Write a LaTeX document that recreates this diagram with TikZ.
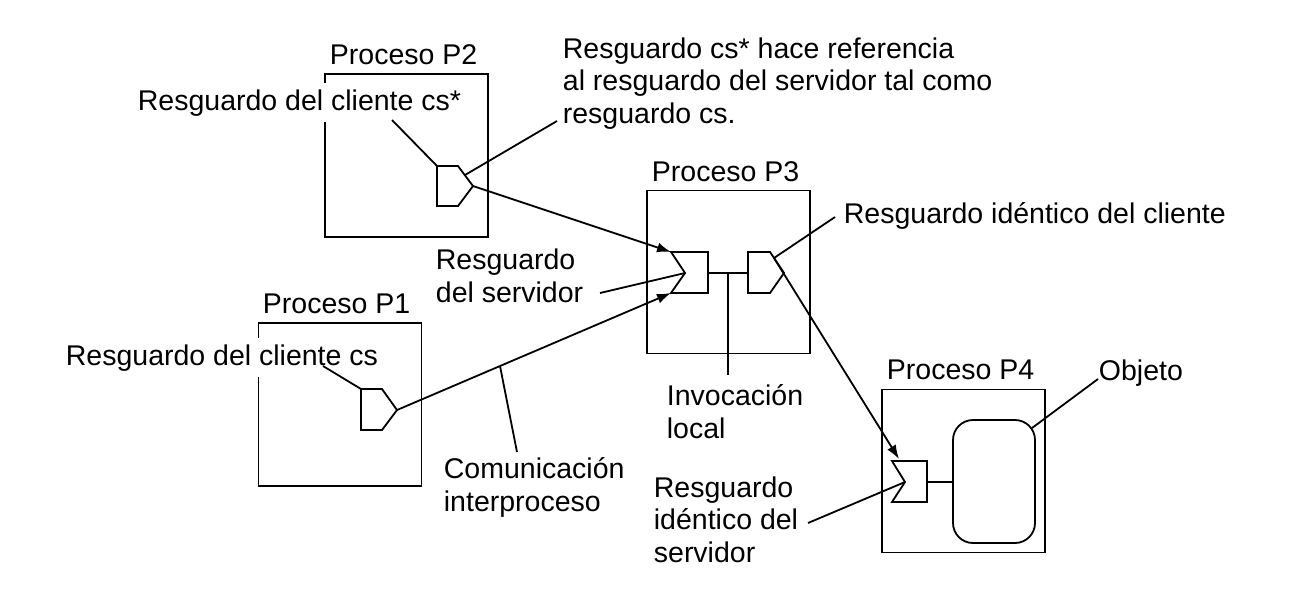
\documentclass[tikz,border=0pt]{standalone}
\usepackage{fontspec}
\setmainfont{Liberation Sans}
\usetikzlibrary{arrows.meta}
\begin{document}
\fontsize{14.25}{16.25}\selectfont
\begin{tikzpicture}[x=0.5pt, y=-0.5pt, line width=0.9pt,
  proc/.style={draw, minimum width=81.5pt, minimum height=81.5pt, inner sep=0pt},
  txt/.style={anchor=base west, inner sep=0pt, align=left},
  cut/.style={txt, fill=white, inner ysep=3pt},
  arr/.style={-{Latex[length=7pt,width=5pt]}}]
\useasboundingbox (0,0) rectangle (1301,596);

% procesos
\node[proc] (p2) at (406.5,155.5){};
\node[proc] (p1) at (340,404.5){};
\node[proc] (p3) at (728.5,272){};
\node[proc] (p4) at (963.5,471){};
\node[txt] (t2) at (329,64) {Proceso P2};
\node[txt] (t1) at (262,313) {Proceso P1};
\node[txt] (t3) at (651,181) {Proceso P3};
\node[txt] (t4) at (886,379) {Proceso P4};

% resguardos
\draw (437,166) -- (458,166) -- (473,186) coordinate (cs2) -- (458,206) -- (437,206) -- cycle;
\coordinate (cs2a) at (437,166);
\coordinate (cs2b) at (465,175);
\draw (361,389) -- (382,389) -- (397,410) coordinate (cs1) -- (382,430) -- (361,430) -- cycle;
\coordinate (cs1a) at (361,389);
\draw (671,252) coordinate (ss3a) -- (708,252) -- (708,293) -- (671,293) coordinate (ss3b)
  -- (685,273) coordinate (ss3) -- cycle;
\coordinate (ss3r) at (708,273);
\draw (748,252) -- (770,252) -- (784,273) -- (770,293) -- (748,293) -- cycle;
\coordinate (cs3l) at (748,273);
\coordinate (cs3) at (774,258);
\draw (892,461) -- (927,461) -- (927,502) -- (892,502) -- (905,482) coordinate (ss4) -- cycle;
\coordinate (ss4a) at (899,459);
\coordinate (ss4r) at (927,482);
\draw[rounded corners=10pt] (953,420) rectangle (1035,543);
\coordinate (obj) at (953,482);
\coordinate (objb) at (1032,428);

% textos (nodes of several lines sit on their last baseline)
\node[cut] (n2) at (137,110) {Resguardo del cliente cs*};
\node[cut] (n1) at (65,365) {Resguardo del cliente cs};
\node[txt] (nref) at (562,123) {Resguardo cs* hace referencia\\al resguardo del servidor tal como\\resguardo cs.};
\node[txt] (nsrv) at (435,302) {Resguardo\\del servidor};
\node[txt] (nid) at (843,223) {Resguardo id\'entico del cliente};
\node[txt] (ninv) at (666,438) {Invocaci\'on\\local};
\node[txt] (ncom) at (443,511) {Comunicaci\'on\\interproceso};
\node[txt] (nids) at (653,562) {Resguardo\\id\'entico del\\servidor};
\node[txt] (nobj) at (1098,380) {Objeto};

\coordinate (l2) at (392,120);
\coordinate (lref) at (557,121);
\coordinate (l1) at (323,366);
\coordinate (lsrv) at (600,293);
\coordinate (lid) at (835,217);
\coordinate (linv) at (728,375);
\coordinate (linvt) at (728,273);
\coordinate (lcom) at (517,452);
\coordinate (lcomt) at (500,366);
\coordinate (lids) at (808,523);
\coordinate (lobj) at (1098,379);

% conexiones
\draw[arr] (cs2) -- (ss3a);
\draw[arr] (cs1) -- (ss3b);
\draw[arr] (cs3) -- (ss4a);
\draw (ss3r) -- (cs3l);
\draw (ss4r) -- (obj);
\draw (l2) -- (cs2a);
\draw (lref) -- (cs2b);
\draw (l1) -- (cs1a);
\draw (lsrv) -- (ss3);
\draw (lid) -- (cs3);
\draw (linvt) -- (linv);
\draw (lcom) -- (lcomt);
\draw (lids) -- (ss4);
\draw (lobj) -- (objb);

\end{tikzpicture}
\end{document}
